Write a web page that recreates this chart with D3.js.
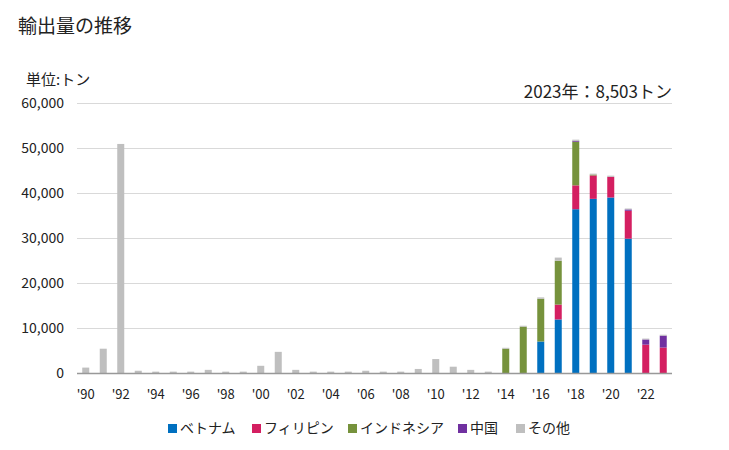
<!DOCTYPE html>
<html><head><meta charset="utf-8">
<script src="https://cdn.jsdelivr.net/npm/d3@7"></script>
<style>body{margin:0;background:#fff;}svg{display:block;font-family:"Noto Sans CJK JP","Noto Sans",sans-serif;}</style>
</head><body><svg id="c" width="729" height="450"></svg>
<script>
const years = d3.range(1990, 2024);
const seriesNames = ["ベトナム","フィリピン","インドネシア","中国","その他"];
const colors = ["#0070C0","#D41F61","#76923C","#7030A0","#BFBFBF"];
const vietnam    = [0,0,0,0,0,0,0,0,0,0,0,0,0,0,0,0,0,0,0,0,0,0,0,0,0,0,7000,11900,36400,38700,39000,29850,0,0];
const philippines= [0,0,0,0,0,0,0,0,0,0,0,0,0,0,0,0,0,0,0,0,0,0,0,0,0,0,0,3300,5300,5200,4600,6200,6300,5650];
const indonesia  = [0,0,0,0,0,0,0,0,0,0,0,0,0,0,0,0,0,0,0,0,0,0,0,0,5400,10300,9500,9750,9700,200,0,0,0,0];
const china      = [0,0,0,0,0,0,0,0,0,0,0,0,0,0,0,0,0,0,0,0,0,0,0,0,0,0,0,0,200,0,0,300,1150,2650];
const others     = [1200,5400,50900,500,300,300,300,700,300,300,1600,4700,700,300,300,300,500,300,300,900,3100,1400,700,300,200,200,300,700,250,200,250,200,200,203];
const yTicks = [0,10000,20000,30000,40000,50000,60000];

const svg = d3.select("#c");
const x = d3.scaleBand().domain(years).range([77,672]).paddingInner(0.6).paddingOuter(0.3);
const y = d3.scaleLinear().domain([0,60000]).range([373,103]);

svg.append("text").attr("x",18).attr("y",33).attr("font-size",19).attr("fill","#222").text("輸出量の推移");
svg.append("text").attr("x",26).attr("y",85).attr("font-size",15).attr("fill","#222").text("単位:トン");
svg.append("text").attr("x",672).attr("y",98).attr("text-anchor","end").attr("font-size",17).attr("fill","#222").text("2023年：8,503トン");

const gy = svg.append("g");
gy.selectAll("line").data(yTicks).join("line")
  .attr("x1",77).attr("x2",672).attr("y1",d=>y(d)+0.5).attr("y2",d=>y(d)+0.5)
  .attr("stroke","#d9d9d9").attr("stroke-width",1);
gy.selectAll("text").data(yTicks).join("text")
  .attr("x",64).attr("y",d=>y(d)+5).attr("text-anchor","end").attr("font-size",14).attr("fill","#222")
  .text(d=>d3.format(",")(d));

const data = years.map((yr,i)=>({year:yr,s0:vietnam[i],s1:philippines[i],s2:indonesia[i],s3:china[i],s4:others[i]}));
const stack = d3.stack().keys(["s0","s1","s2","s3","s4"])(data);
svg.append("g").selectAll("g").data(stack).join("g").attr("fill",(d,i)=>colors[i])
  .selectAll("rect").data(d=>d).join("rect")
  .attr("x",d=>x(d.data.year)).attr("width",x.bandwidth())
  .attr("y",d=>y(d[1])).attr("height",d=>Math.max(0,y(d[0])-y(d[1])));

svg.append("line").attr("x1",77).attr("x2",672).attr("y1",373.5).attr("y2",373.5).attr("stroke","#999").attr("stroke-width",1.5);

const xl = years.filter(d=>d%2===0);
svg.append("g").selectAll("text").data(xl).join("text")
  .attr("x",d=>x(d)+x.bandwidth()/2).attr("y",399).attr("text-anchor","middle").attr("font-size",13).attr("fill","#222")
  .text(d=>"'"+String(d%100).padStart(2,"0"));

const legX = [168,252,348,458,516];
const lg = svg.append("g").selectAll("g").data(seriesNames).join("g")
  .attr("transform",(d,i)=>`translate(${legX[i]},0)`);
lg.append("rect").attr("x",0).attr("y",424).attr("width",9).attr("height",9).attr("fill",(d,i)=>colors[i]);
lg.append("text").attr("x",12).attr("y",433).attr("font-size",14).attr("fill","#222").text(d=>d);
</script></body></html>
